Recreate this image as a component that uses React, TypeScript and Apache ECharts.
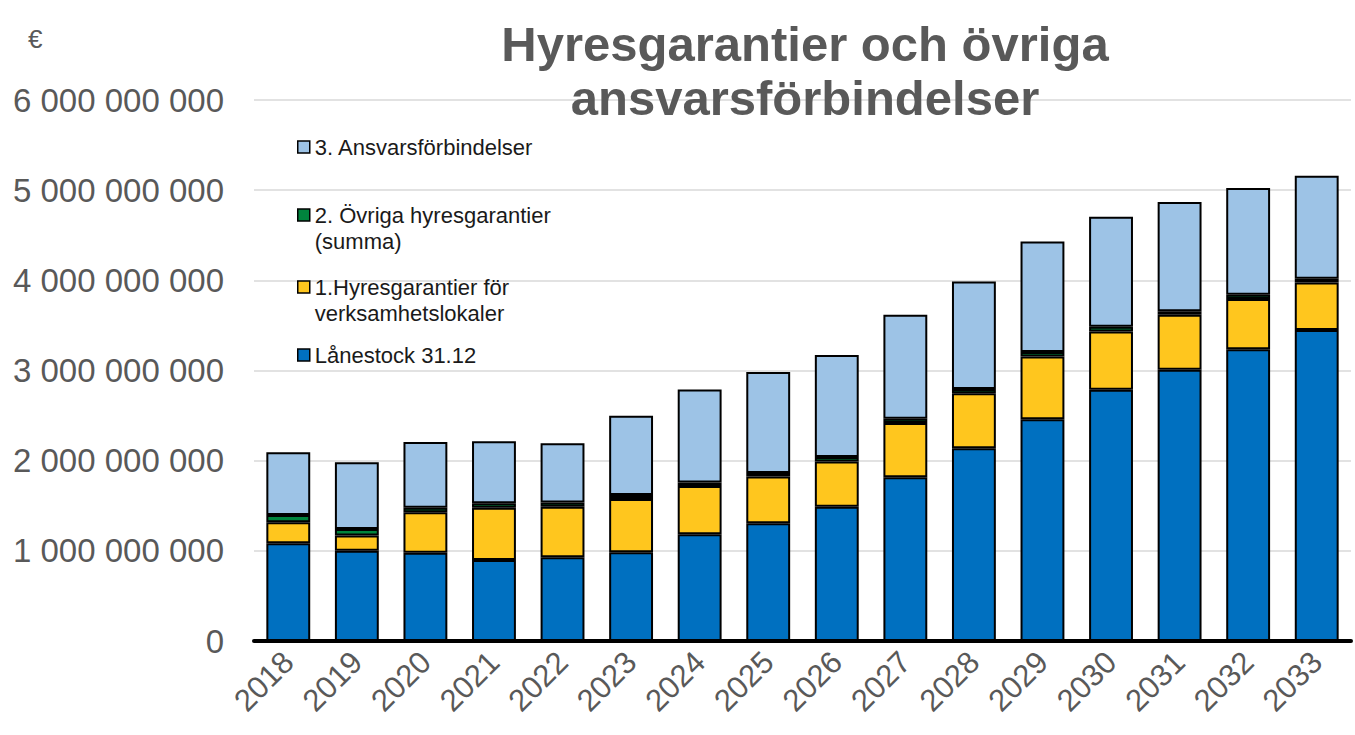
import React, { useEffect, useRef } from "react";
import * as echarts from "echarts";

const years = ["2018","2019","2020","2021","2022","2023","2024","2025","2026","2027","2028","2029","2030","2031","2032","2033"];
const lanestock = [1084e6, 1002e6, 980e6, 899e6, 929e6, 984e6, 1184e6, 1306e6, 1490e6, 1817e6, 2139e6, 2460e6, 2786e6, 3008e6, 3237e6, 3450e6];
const hyresgarantier = [233e6, 167e6, 448e6, 580e6, 560e6, 592e6, 536e6, 518e6, 500e6, 600e6, 610e6, 695e6, 647e6, 610e6, 555e6, 525e6];
const ovriga = [80e6, 74e6, 50e6, 48e6, 48e6, 44e6, 38e6, 38e6, 52e6, 48e6, 45e6, 49e6, 52e6, 38e6, 48e6, 42e6];
const ansvar = [697e6, 740e6, 728e6, 688e6, 655e6, 877e6, 1030e6, 1120e6, 1130e6, 1154e6, 1193e6, 1228e6, 1221e6, 1214e6, 1184e6, 1143e6];

const names = [
  "Lånestock 31.12",
  "1.Hyresgarantier för\nverksamhetslokaler",
  "2. Övriga hyresgarantier\n(summa)",
  "3. Ansvarsförbindelser",
];
const colors = ["#0070C0", "#FFC61E", "#00843D", "#9DC3E6"];
const yTicks = { min: 0, max: 6e9, interval: 1e9 };

export default function App() {
  const ref = useRef<HTMLDivElement>(null);
  useEffect(() => {
    if (!ref.current) return;
    const chart = echarts.init(ref.current, undefined, { renderer: "svg" });
    const dataSets = [lanestock, hyresgarantier, ovriga, ansvar];
    const legendBase = {
      orient: "vertical",
      left: 297,
      padding: 0,
      icon: "rect",
      itemWidth: 12,
      itemHeight: 12,
      itemGap: 0,
      itemStyle: { borderColor: "#000", borderWidth: 1.5 },
      textStyle: { fontSize: 22, lineHeight: 26, color: "#1a1a1a", fontFamily: "Liberation Sans, Arial, sans-serif" },
      selectedMode: false,
    };
    const multi = (n: string) => "\n" + n;
    chart.setOption({
      animation: false,
      backgroundColor: "#fff",
      textStyle: { fontFamily: "Liberation Sans, Arial, sans-serif" },
      title: {
        text: "Hyresgarantier och övriga\nansvarsförbindelser",
        left: 800,
        textAlign: "center",
        top: 12,
        textStyle: { fontSize: 49, fontWeight: "bold", color: "#595959", lineHeight: 54, fontFamily: "Liberation Sans, Arial, sans-serif" },
      },
      graphic: [
        { type: "text", left: 28, top: 26, style: { text: "€", fontSize: 26, fill: "#595959", fontFamily: "Liberation Sans, Arial, sans-serif" } },
      ],
      legend: [
        { ...legendBase, top: 134, data: [names[3]] },
        { ...legendBase, top: 176, data: [names[2]], formatter: multi },
        { ...legendBase, top: 248, data: [names[1]], formatter: multi },
        { ...legendBase, top: 342, data: [names[0]] },
      ],
      grid: { left: 254, right: 4, top: 100, bottom: 94, containLabel: false },
      xAxis: {
        type: "category",
        data: years,
        axisLine: { lineStyle: { color: "#000", width: 4 } },
        axisTick: { show: false },
        axisLabel: { rotate: 45, fontSize: 31, color: "#595959", margin: 16, interval: 0 },
      },
      yAxis: {
        type: "value",
        min: yTicks.min,
        max: yTicks.max,
        interval: yTicks.interval,
        axisLine: { show: false },
        axisTick: { show: false },
        splitLine: { lineStyle: { color: "#d9d9d9", width: 1.5 } },
        axisLabel: {
          fontSize: 33,
          color: "#595959",
          margin: 30,
          formatter: (v: number) => String(Math.round(v)).replace(/\B(?=(\d{3})+(?!\d))/g, " "),
        },
      },
      series: names.map((n, i) => ({
        name: n,
        type: "bar",
        stack: "total",
        barWidth: "64%",
        data: dataSets[i],
        itemStyle: { color: colors[i], borderColor: "#000", borderWidth: 2 },
      })),
    });
    return () => chart.dispose();
  }, []);
  return <div ref={ref} style={{ position: "fixed", left: 0, top: 0, width: 1355, height: 735 }} />;
}
